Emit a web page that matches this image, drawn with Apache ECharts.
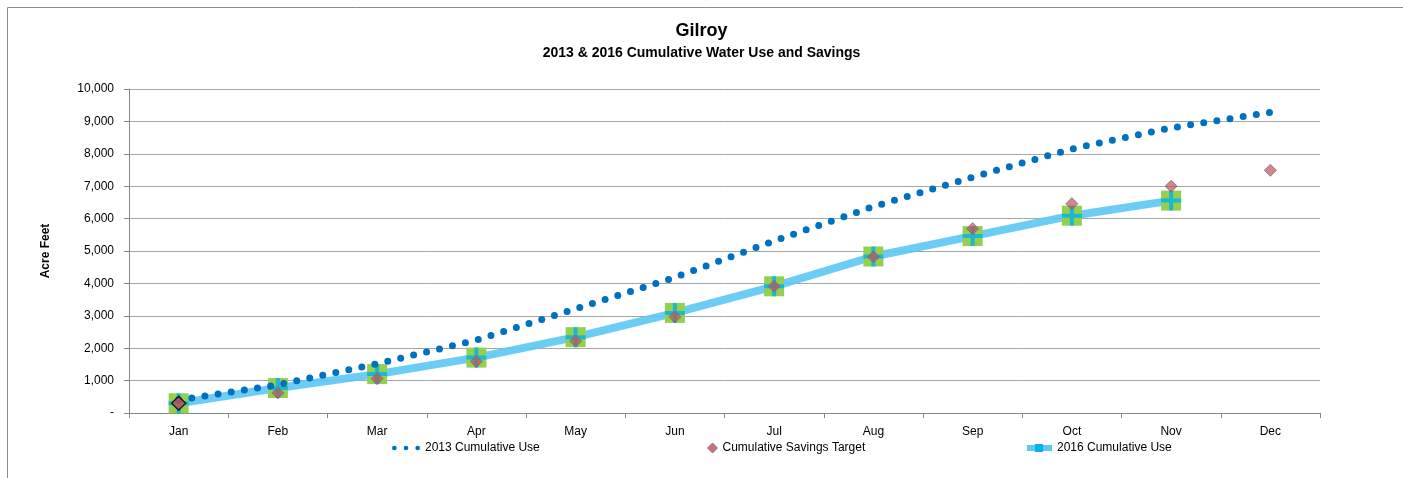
<!DOCTYPE html>
<html>
<head>
<meta charset="utf-8">
<script src="https://cdn.jsdelivr.net/npm/echarts@6/dist/echarts.min.js"></script>
<style>
  html, body { margin: 0; padding: 0; background: #fff; }
  #chart { width: 1403px; height: 478px; }
</style>
</head>
<body>
<div id="chart"></div>
<script>
const months = ["Jan", "Feb", "Mar", "Apr", "May", "Jun", "Jul", "Aug", "Sep", "Oct", "Nov", "Dec"];
const use2013 = [400, 870, 1520, 2250, 3215, 4185, 5310, 6370, 7280, 8150, 8800, 9280];
const use2016 = [300, 770, 1200, 1710, 2340, 3090, 3910, 4830, 5460, 6090, 6555, null];
const savingsTarget = [300, 620, 1060, 1590, 2220, 2970, 3910, 4820, 5690, 6460, 7000, 7490];

const font = "'Liberation Sans', Arial, sans-serif";
const axisGray = "#868686";

const renderChart = () => {
  var chartDom = document.getElementById("chart");
  var myChart = echarts.init(chartDom);

  const crossPath = "path://M8,0H12V8H20V12H12V20H8V12H0V8H8Z";
  const dotsPath =
    "path://M0,2a2,2 0 1,0 4,0a2,2 0 1,0 -4,0ZM10,2a2,2 0 1,0 4,0a2,2 0 1,0 -4,0ZM20,2a2,2 0 1,0 4,0a2,2 0 1,0 -4,0Z";

  const targetData = savingsTarget.map((v, i) =>
    i === 0
      ? { value: v, symbolSize: 14, itemStyle: { color: "#C0504D", borderColor: "#000", borderWidth: 1.5 } }
      : v
  );

  const legendText = { fontFamily: font, fontSize: 12, color: "#000" };

  var option = {
    animation: false,
    textStyle: { fontFamily: font },
    title: [
      {
        text: "Gilroy",
        left: "center",
        top: 17,
        textStyle: { fontFamily: font, fontSize: 18, fontWeight: "bold", color: "#000" },
      },
      {
        text: "2013 & 2016 Cumulative Water Use and Savings",
        left: "center",
        top: 41,
        textStyle: { fontFamily: font, fontSize: 14, fontWeight: "bold", color: "#000" },
      },
    ],
    graphic: [
      {
        type: "rect",
        shape: { x: 7.5, y: 7.5, width: 1410, height: 490 },
        style: { fill: "none", stroke: "#8c8c8c", lineWidth: 1 },
        silent: true,
      },
      {
        // little darker square in the middle of the 2016 legend swatch
        type: "rect",
        shape: { x: 1035, y: 444, width: 8, height: 8 },
        style: { fill: "#00B0F0" },
        silent: true,
        z: 100,
      },
    ],
    legend: [
      {
        left: 392,
        top: 442,
        padding: 0,
        itemWidth: 28,
        itemHeight: 6,
        textStyle: legendText,
        data: [{ name: "2013 Cumulative Use", icon: dotsPath, itemStyle: { color: "#0070C0" } }],
      },
      {
        left: 707,
        top: 442,
        padding: 0,
        itemWidth: 10,
        itemHeight: 10,
        textStyle: legendText,
        data: [
          {
            name: "Cumulative Savings Target",
            icon: "diamond",
            itemStyle: { color: "#C0504D", borderColor: "#8064A2", borderWidth: 1 },
          },
        ],
      },
      {
        left: 1027,
        top: 442,
        padding: 0,
        itemWidth: 25,
        itemHeight: 6,
        textStyle: legendText,
        data: [{ name: "2016 Cumulative Use", icon: "rect", itemStyle: { color: "#5BC8F5" } }],
      },
    ],
    grid: {
      left: 129,
      right: 83,
      top: 89,
      bottom: 65,
    },
    xAxis: {
      type: "category",
      data: months,
      boundaryGap: true,
      axisLine: { lineStyle: { color: axisGray, width: 1 } },
      axisTick: { show: true, length: 5, lineStyle: { color: axisGray } },
      axisLabel: { color: "#000", fontSize: 12, fontFamily: font, margin: 13 },
    },
    yAxis: {
      type: "value",
      min: 0,
      max: 10000,
      interval: 1000,
      name: "Acre Feet",
      nameLocation: "middle",
      nameRotate: 90,
      nameGap: 77,
      nameTextStyle: { fontFamily: font, fontSize: 12, fontWeight: "bold", color: "#000" },
      axisLine: { show: true, lineStyle: { color: axisGray, width: 1 } },
      axisTick: { show: true, length: 5, lineStyle: { color: axisGray } },
      axisLabel: {
        color: "#000",
        fontSize: 12,
        fontFamily: font,
        margin: 15,
        formatter: (v) => (v === 0 ? "-" : v.toLocaleString("en-US")),
      },
      splitLine: { lineStyle: { color: "#A6A6A6", width: 1 } },
    },
    series: [
      {
        name: "2016 Cumulative Use",
        type: "line",
        data: use2016,
        symbol: "rect",
        symbolSize: 20,
        itemStyle: { color: "#92D050" },
        lineStyle: { color: "#5BC8F5", width: 8, opacity: 0.9 },
        z: 2,
      },
      {
        name: "2016 cross",
        type: "scatter",
        data: use2016,
        symbol: crossPath,
        symbolSize: 20,
        itemStyle: { color: "#00B0F0" },
        silent: true,
        z: 3,
      },
      {
        name: "2013 Cumulative Use",
        type: "line",
        data: use2013,
        symbol: "none",
        itemStyle: { color: "#0070C0" },
        lineStyle: { color: "#0070C0", width: 7, type: [0, 13.3], cap: "round" },
        z: 4,
      },
      {
        name: "Cumulative Savings Target",
        type: "scatter",
        data: targetData,
        symbol: "diamond",
        symbolSize: 12,
        itemStyle: { color: "rgba(192,80,77,0.85)", borderColor: "#8064A2", borderWidth: 1 },
        z: 5,
      },
    ],
  };

  option && myChart.setOption(option);
};

renderChart();
</script>
</body>
</html>
